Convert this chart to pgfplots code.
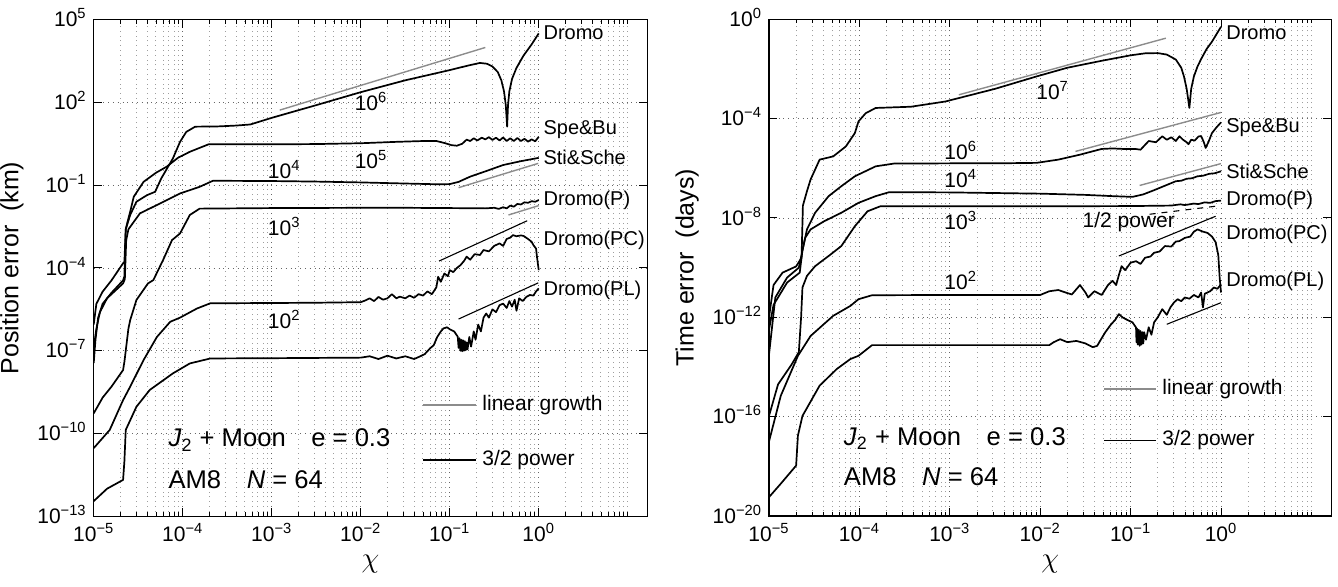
\documentclass[border=0pt]{standalone}
\usepackage{fontspec}
\setmainfont{Liberation Sans}
\usepackage{pgfplots}
\pgfplotsset{compat=1.18}
\newcommand{\tl}[1]{10\textsuperscript{#1}}
\tikzset{
 crv/.style={black, line width=0.85pt, line join=round},
 lin/.style={black!45, line width=0.7pt},
 pw/.style={black, line width=0.55pt},
 lab/.style={font=\fontsize{10}{12}\selectfont, anchor=west, inner sep=0pt},
 num/.style={font=\fontsize{10.5}{12}\selectfont, anchor=base, inner sep=0pt},
 ann/.style={font=\fontsize{12.8}{15}\selectfont, anchor=base west, inner sep=0pt},
}
\begin{document}
\begin{tikzpicture}
\useasboundingbox (0,0) rectangle (669pt,293pt);
\pgfplotsset{
 myax/.style={
  scale only axis, anchor=south west,
  xmin=-5, xmax=1.22,
  xtick={-5,-4,-3,-2,-1,0},
  xticklabels={\tl{−5},\tl{−4},\tl{−3},\tl{−2},\tl{−1},\tl{0}},
  minor xtick={-4.69897,-4.52288,-4.39794,-4.30103,-4.22185,-4.15490,-4.09691,-4.04576,
   -3.69897,-3.52288,-3.39794,-3.30103,-3.22185,-3.15490,-3.09691,-3.04576,
   -2.69897,-2.52288,-2.39794,-2.30103,-2.22185,-2.15490,-2.09691,-2.04576,
   -1.69897,-1.52288,-1.39794,-1.30103,-1.22185,-1.15490,-1.09691,-1.04576,
   -0.69897,-0.52288,-0.39794,-0.30103,-0.22185,-0.15490,-0.09691,-0.04576,
   0.30103,0.47712,0.60206,0.69897,0.77815,0.84510,0.90309,0.95424,1},
  xmajorgrids, ymajorgrids, xminorgrids,
  major grid style={dotted, black!60, line width=0.45pt},
  minor grid style={dotted, black!38, line width=0.45pt},
  major tick style={black, line width=0.5pt},
  minor tick style={black, line width=0.4pt},
  major tick length=4pt, minor tick length=2pt,
  axis line style={line width=0.7pt},
  tick label style={font=\fontsize{10.5}{12}\selectfont},
  yticklabel style={anchor=base east, yshift=-3.6pt},
  label style={font=\fontsize{12.5}{15}\selectfont},
  xlabel={\fontsize{15}{16}\selectfont$\chi$},
 },
}
% ================= LEFT PANEL =================
\begin{axis}[myax, at={(46.85pt,34.85pt)}, width=276.8pt, height=248.35pt,
  ymin=-13, ymax=5, ytick={-13,-10,-7,-4,-1,2,5},
  yticklabels={\tl{−13},\tl{−10},\tl{−7},\tl{−4},\tl{−1},\tl{2},\tl{5}},
  ylabel={Position error\ \ (km)}]
% guide lines
\addplot[lin] coordinates {(-2.91,1.72) (-0.60,3.99)};
\addplot[lin] coordinates {(-0.90,-1.09) (-0.005,-0.21)};
\addplot[lin] coordinates {(-0.34,-2.08) (0.0,-1.74)};
\addplot[pw] coordinates {(-1.12,-3.75) (-0.13,-2.29)};
\addplot[pw] coordinates {(-0.90,-5.85) (-0.005,-4.54)};
\addplot[lin] coordinates {(-1.30,-8.97) (-0.70,-8.97)};
\addplot[pw] coordinates {(-1.30,-10.96) (-0.70,-10.96)};
% Dromo
\addplot[crv] coordinates {(-5,-6.05) (-4.97,-5.3) (-4.9,-4.86) (-4.8,-4.45) (-4.67,-3.83) (-4.655,-3.78) (-4.64,-2.6) (-4.59,-2.08) (-4.52,-1.6) (-4.40,-1.36) (-4.31,-1.24) (-4.24,-0.75) (-4.11,-0.03) (-4.03,0.57) (-3.96,0.93) (-3.86,1.12) (-3.6,1.13) (-3.4,1.16) (-3.24,1.2) (-3.0,1.44) (-2.5,1.9) (-2.0,2.37) (-1.5,2.8) (-1.0,3.17) (-0.8,3.33) (-0.66,3.43) (-0.58,3.4) (-0.52,3.3) (-0.46,3.1) (-0.42,2.8) (-0.39,2.4) (-0.37,1.9) (-0.355,1.12) (-0.345,1.9) (-0.33,2.4) (-0.3,2.85) (-0.25,3.25) (-0.17,3.7) (-0.08,4.1) (0,4.5)};
% Spe&Bu
\addplot[crv] coordinates {(-5.0,-7.45) (-4.98,-6.6) (-4.95,-5.8) (-4.9,-5.3) (-4.8,-4.9) (-4.67,-4.45) (-4.655,-4.3) (-4.64,-2.6) (-4.62,-2.33) (-4.59,-1.96) (-4.55,-1.42) (-4.44,-0.88) (-4.3,-0.55) (-4.18,-0.33) (-4.05,0.0) (-3.92,0.21) (-3.71,0.48) (-3.0,0.48) (-2.5,0.49) (-2.0,0.52) (-1.6,0.57) (-1.3,0.6) (-1.15,0.6) (-1.05,0.52) (-0.98,0.45) (-0.92,0.43) (-0.86,0.5) (-0.81,0.65) (-0.77,0.6) (-0.73,0.7) (-0.69,0.62) (-0.64,0.72) (-0.6,0.66) (-0.56,0.74) (-0.52,0.64) (-0.48,0.72) (-0.44,0.62) (-0.4,0.73) (-0.36,0.6) (-0.32,0.7) (-0.28,0.6) (-0.24,0.71) (-0.2,0.6) (-0.16,0.68) (-0.12,0.58) (-0.08,0.66) (-0.04,0.59) (0,0.75)};
% Sti&Sche
\addplot[crv] coordinates {(-5,-6.9) (-4.97,-6.2) (-4.93,-5.6) (-4.85,-5.1) (-4.67,-4.56) (-4.65,-4.4) (-4.635,-3.0) (-4.61,-2.6) (-4.59,-2.51) (-4.48,-2.02) (-4.29,-1.72) (-4.03,-1.30) (-3.81,-1.06) (-3.66,-0.84) (-3.0,-0.85) (-2.5,-0.87) (-2.0,-0.9) (-1.5,-0.94) (-1.1,-0.97) (-1.0,-0.96) (-0.9,-0.88) (-0.77,-0.69) (-0.6,-0.5) (-0.4,-0.27) (-0.2,-0.13) (0,-0.01)};
% Dromo(P)
\addplot[crv] coordinates {(-5,-9.27) (-4.9,-8.7) (-4.8,-8.3) (-4.67,-7.7) (-4.655,-7.4) (-4.625,-6.6) (-4.61,-6.2) (-4.59,-5.89) (-4.52,-5.16) (-4.39,-4.56) (-4.33,-4.44) (-4.22,-3.71) (-4.12,-2.99) (-4.03,-2.75) (-3.92,-2.08) (-3.81,-1.85) (-3.0,-1.83) (-2.0,-1.82) (-1.5,-1.82) (-1.0,-1.83) (-0.6,-1.84) (-0.5,-1.82) (-0.45,-1.86) (-0.4,-1.8) (-0.36,-1.84) (-0.32,-1.74) (-0.28,-1.78) (-0.24,-1.68) (-0.2,-1.7) (-0.16,-1.62) (-0.12,-1.64) (-0.08,-1.58) (-0.04,-1.6) (0,-1.54)};
% Dromo(PC)
\addplot[crv] coordinates {(-5,-10.53) (-4.82,-9.87) (-4.67,-8.79) (-4.59,-8.3) (-4.44,-7.34) (-4.29,-6.5) (-4.14,-5.95) (-4.03,-5.8) (-3.84,-5.47) (-3.69,-5.28) (-3.0,-5.27) (-2.5,-5.26) (-2.0,-5.24) (-1.95,-5.18) (-1.9,-5.1) (-1.85,-5.2) (-1.8,-5.05) (-1.75,-5.15) (-1.7,-5.1) (-1.65,-4.95) (-1.6,-5.1) (-1.56,-5.04) (-1.5,-5.1) (-1.45,-5.0) (-1.4,-5.08) (-1.35,-4.95) (-1.3,-5.0) (-1.25,-4.85) (-1.2,-4.95) (-1.15,-4.7) (-1.13,-4.32) (-1.1,-4.5) (-1.06,-4.2) (-1.02,-4.3) (-1.0,-4.08) (-0.96,-4.15) (-0.92,-4.0) (-0.88,-3.9) (-0.84,-3.75) (-0.81,-3.59) (-0.77,-3.7) (-0.72,-3.5) (-0.66,-3.53) (-0.62,-3.35) (-0.56,-3.4) (-0.5,-3.2) (-0.44,-3.11) (-0.4,-3.2) (-0.36,-2.95) (-0.32,-2.9) (-0.29,-2.81) (-0.25,-2.85) (-0.2,-2.82) (-0.17,-2.84) (-0.12,-2.95) (-0.08,-3.05) (-0.06,-3.17) (-0.03,-3.3) (-0.02,-3.59) (0,-4.08)};
% Dromo(PL)
\addplot[crv] coordinates {(-5,-12.45) (-4.85,-12.0) (-4.67,-11.68) (-4.655,-11.0) (-4.64,-9.87) (-4.52,-9.03) (-4.37,-8.42) (-4.11,-7.82) (-3.92,-7.46) (-3.69,-7.28) (-3.0,-7.27) (-2.5,-7.26) (-2.0,-7.25) (-1.9,-7.2) (-1.8,-7.3) (-1.7,-7.18) (-1.6,-7.28) (-1.5,-7.2) (-1.4,-7.3) (-1.33,-7.2) (-1.28,-7.12) (-1.22,-6.91) (-1.18,-6.8) (-1.14,-6.5) (-1.1,-6.3) (-1.07,-6.19) (-1.03,-6.15) (-1.0,-6.22) (-0.95,-6.3) (-0.91,-6.49) (-0.9,-6.9) (-0.89,-6.55) (-0.88,-7.0) (-0.87,-6.6) (-0.86,-7.02) (-0.85,-6.62) (-0.84,-7.0) (-0.83,-6.65) (-0.82,-6.98) (-0.81,-6.7) (-0.8,-6.95) (-0.78,-6.5) (-0.76,-6.85) (-0.73,-6.3) (-0.71,-6.6) (-0.68,-6.05) (-0.65,-6.3) (-0.62,-5.8) (-0.59,-5.65) (-0.56,-5.8) (-0.52,-5.5) (-0.48,-5.6) (-0.44,-5.35) (-0.4,-5.29) (-0.36,-5.45) (-0.33,-5.2) (-0.3,-5.4) (-0.27,-5.15) (-0.25,-5.55) (-0.22,-5.1) (-0.18,-5.2) (-0.14,-5.05) (-0.1,-4.98) (-0.06,-5.0) (-0.03,-4.85) (0,-4.74)};
% labels
\node[lab] at (axis cs:0.05,4.51) {Dromo};
\node[lab] at (axis cs:0.05,1.0) {Spe\&Bu};
\node[lab] at (axis cs:0.05,0.0) {Sti\&Sche};
\node[lab] at (axis cs:0.05,-1.54) {Dromo(P)};
\node[lab] at (axis cs:0.05,-2.99) {Dromo(PC)};
\node[lab] at (axis cs:0.05,-4.80) {Dromo(PL)};
\node[num] at (axis cs:-1.884,1.72) {\tl{6}};
\node[num] at (axis cs:-1.884,-0.39) {\tl{5}};
\node[num] at (axis cs:-2.86,-0.76) {\tl{4}};
\node[num] at (axis cs:-2.86,-2.81) {\tl{3}};
\node[num] at (axis cs:-2.86,-6.19) {\tl{2}};
\node[lab, font=\fontsize{10.5}{12}\selectfont] at (axis cs:-0.637,-8.97) {linear growth};
\node[lab, font=\fontsize{10.5}{12}\selectfont] at (axis cs:-0.637,-10.96) {3/2 power};
\node[ann] at (axis cs:-4.163,-10.48) {\textit{J}\textsubscript{2} + Moon\quad e = 0.3};
\node[ann] at (axis cs:-4.163,-11.99) {AM8\quad \textit{N} = 64};
\end{axis}
% ================= RIGHT PANEL =================
\begin{axis}[myax, at={(384.5pt,35pt)}, width=281.15pt, height=248.35pt,
  ymin=-20, ymax=0, ytick={-20,-16,-12,-8,-4,0},
  yticklabels={\tl{−20},\tl{−16},\tl{−12},\tl{−8},\tl{−4},\tl{0}},
  ylabel={Time error\ \ (days)}]
\addplot[lin] coordinates {(-2.90,-3.04) (-0.61,-0.76)};
\addplot[lin] coordinates {(-1.61,-5.32) (0,-3.75)};
\addplot[lin] coordinates {(-0.90,-6.69) (0,-5.81)};
\addplot[pw, dashed] coordinates {(-0.79,-7.85) (0,-7.5)};
\addplot[pw] coordinates {(-1.13,-9.53) (-0.06,-7.93)};
\addplot[pw] coordinates {(-0.60,-12.28) (0,-11.41)};
\addplot[lin] coordinates {(-1.294,-14.89) (-0.719,-14.89)};
\addplot[pw] coordinates {(-1.294,-16.96) (-0.719,-16.96)};
% Dromo
\addplot[crv] coordinates {(-5,-12.0) (-4.95,-10.7) (-4.85,-10.2) (-4.7,-9.95) (-4.64,-9.6) (-4.625,-7.5) (-4.58,-6.92) (-4.54,-6.45) (-4.44,-5.65) (-4.29,-5.52) (-4.15,-5.12) (-4.05,-4.58) (-4.01,-4.11) (-3.93,-3.78) (-3.82,-3.57) (-3.43,-3.52) (-3.05,-3.31) (-2.5,-2.8) (-2.04,-2.30) (-1.7,-1.95) (-1.32,-1.67) (-1.0,-1.45) (-0.84,-1.37) (-0.7,-1.36) (-0.6,-1.42) (-0.5,-1.62) (-0.44,-1.95) (-0.41,-2.3) (-0.38,-2.8) (-0.35,-3.57) (-0.33,-2.8) (-0.3,-2.3) (-0.26,-1.9) (-0.22,-1.6) (-0.16,-1.2) (-0.10,-0.90) (-0.05,-0.6) (0,-0.30)};
% Spe&Bu
\addplot[crv] coordinates {(-5,-13.5) (-4.93,-11.2) (-4.8,-10.4) (-4.67,-10.0) (-4.635,-9.4) (-4.6,-8.8) (-4.58,-8.46) (-4.49,-7.79) (-4.34,-7.12) (-4.20,-6.72) (-4.05,-6.32) (-3.82,-5.92) (-3.62,-5.81) (-3.0,-5.8) (-2.5,-5.8) (-2.04,-5.78) (-1.8,-5.65) (-1.56,-5.45) (-1.32,-5.22) (-1.2,-5.2) (-1.08,-5.22) (-0.95,-5.22) (-0.89,-5.25) (-0.8,-4.9) (-0.72,-4.95) (-0.65,-4.71) (-0.6,-4.85) (-0.55,-4.75) (-0.5,-4.9) (-0.46,-4.71) (-0.42,-4.85) (-0.38,-4.95) (-0.36,-5.03) (-0.33,-4.85) (-0.29,-4.88) (-0.25,-4.72) (-0.22,-4.7) (-0.19,-4.95) (-0.17,-5.18) (-0.14,-4.95) (-0.10,-4.58) (-0.05,-4.35) (0,-4.15)};
% Sti&Sche
\addplot[crv] coordinates {(-5,-12.5) (-4.95,-11.5) (-4.8,-10.6) (-4.66,-10.2) (-4.63,-9.3) (-4.6,-8.8) (-4.54,-8.46) (-4.39,-8.13) (-4.20,-7.79) (-4.01,-7.39) (-3.82,-7.12) (-3.67,-6.96) (-3.0,-6.97) (-2.0,-7.02) (-1.5,-7.07) (-1.2,-7.12) (-0.98,-7.15) (-0.86,-7.05) (-0.74,-6.88) (-0.62,-6.7) (-0.50,-6.52) (-0.44,-6.5) (-0.38,-6.42) (-0.32,-6.4) (-0.26,-6.32) (-0.2,-6.3) (-0.13,-6.22) (-0.07,-6.2) (0,-6.12)};
% Dromo(P)
\addplot[crv] coordinates {(-5,-15.97) (-4.9,-14.7) (-4.75,-13.9) (-4.67,-13.4) (-4.645,-12.0) (-4.63,-10.8) (-4.58,-10.33) (-4.49,-9.94) (-4.34,-9.53) (-4.20,-9.13) (-4.05,-8.33) (-3.91,-7.73) (-3.77,-7.53) (-3.0,-7.53) (-2.0,-7.53) (-1.0,-7.52) (-0.55,-7.5) (-0.45,-7.45) (-0.4,-7.48) (-0.3,-7.42) (-0.25,-7.44) (-0.18,-7.37) (-0.12,-7.39) (-0.06,-7.32) (0,-7.3)};
% Dromo(PC)
\addplot[crv] coordinates {(-5,-17.0) (-4.87,-15.16) (-4.68,-13.55) (-4.54,-12.75) (-4.29,-11.94) (-4.10,-11.54) (-4.01,-11.27) (-3.86,-11.11) (-3.0,-11.1) (-2.0,-11.1) (-1.9,-10.95) (-1.8,-10.9) (-1.72,-11.0) (-1.65,-11.08) (-1.56,-10.7) (-1.5,-11.0) (-1.47,-11.2) (-1.4,-10.95) (-1.32,-11.1) (-1.25,-10.7) (-1.2,-10.53) (-1.16,-10.7) (-1.13,-10.3) (-1.1,-9.94) (-1.06,-10.1) (-1.0,-9.8) (-0.94,-9.74) (-0.89,-9.85) (-0.84,-9.6) (-0.78,-9.55) (-0.74,-9.40) (-0.68,-9.35) (-0.62,-9.13) (-0.55,-9.15) (-0.5,-8.95) (-0.46,-8.93) (-0.4,-8.8) (-0.34,-8.75) (-0.3,-8.55) (-0.26,-8.46) (-0.2,-8.55) (-0.15,-8.6) (-0.1,-8.75) (-0.06,-8.97) (-0.03,-9.5) (-0.015,-10.4) (0,-11.0)};
% Dromo(PL)
\addplot[crv] coordinates {(-5,-19.24) (-4.87,-18.7) (-4.7,-17.97) (-4.68,-16.76) (-4.63,-15.97) (-4.44,-14.75) (-4.25,-14.08) (-4.10,-13.68) (-4.01,-13.55) (-3.86,-13.12) (-3.0,-13.12) (-1.9,-13.12) (-1.85,-13.0) (-1.78,-12.88) (-1.7,-13.0) (-1.6,-12.95) (-1.5,-13.05) (-1.42,-13.2) (-1.37,-13.15) (-1.33,-12.9) (-1.28,-12.6) (-1.22,-12.3) (-1.17,-12.1) (-1.13,-11.87) (-1.09,-12.0) (-1.04,-12.1) (-0.98,-12.2) (-0.94,-12.41) (-0.935,-13.0) (-0.93,-12.45) (-0.92,-13.1) (-0.91,-12.5) (-0.9,-13.15) (-0.89,-12.55) (-0.88,-13.1) (-0.87,-12.6) (-0.86,-13.05) (-0.85,-12.6) (-0.83,-12.9) (-0.8,-12.4) (-0.77,-12.7) (-0.74,-12.2) (-0.7,-12.0) (-0.65,-11.67) (-0.6,-11.9) (-0.56,-11.6) (-0.52,-11.4) (-0.48,-11.27) (-0.44,-11.35) (-0.4,-11.2) (-0.35,-11.25) (-0.3,-11.1) (-0.25,-11.2) (-0.22,-11.0) (-0.2,-11.6) (-0.18,-11.05) (-0.12,-10.95) (-0.08,-10.8) (-0.04,-10.85) (0,-10.67)};
\node[lab] at (axis cs:0.055,-0.55) {Dromo};
\node[lab] at (axis cs:0.055,-4.37) {Spe\&Bu};
\node[lab] at (axis cs:0.055,-6.13) {Sti\&Sche};
\node[lab] at (axis cs:0.055,-7.30) {Dromo(P)};
\node[lab] at (axis cs:0.055,-8.66) {Dromo(PC)};
\node[lab] at (axis cs:0.055,-10.55) {Dromo(PL)};
\node[num] at (axis cs:-1.863,-3.24) {\tl{7}};
\node[num] at (axis cs:-2.879,-5.65) {\tl{6}};
\node[num] at (axis cs:-2.879,-6.79) {\tl{4}};
\node[num] at (axis cs:-2.879,-8.46) {\tl{3}};
\node[num] at (axis cs:-2.879,-10.87) {\tl{2}};
\node[num] at (axis cs:-1.02,-8.39) {1/2 power};
\node[lab, font=\fontsize{10.5}{12}\selectfont] at (axis cs:-0.653,-14.89) {linear growth};
\node[lab, font=\fontsize{10.5}{12}\selectfont] at (axis cs:-0.653,-16.96) {3/2 power};
\node[ann] at (axis cs:-4.175,-17.16) {\textit{J}\textsubscript{2} + Moon\quad e = 0.3};
\node[ann] at (axis cs:-4.175,-18.77) {AM8\quad \textit{N} = 64};
\end{axis}
\end{tikzpicture}
\end{document}
